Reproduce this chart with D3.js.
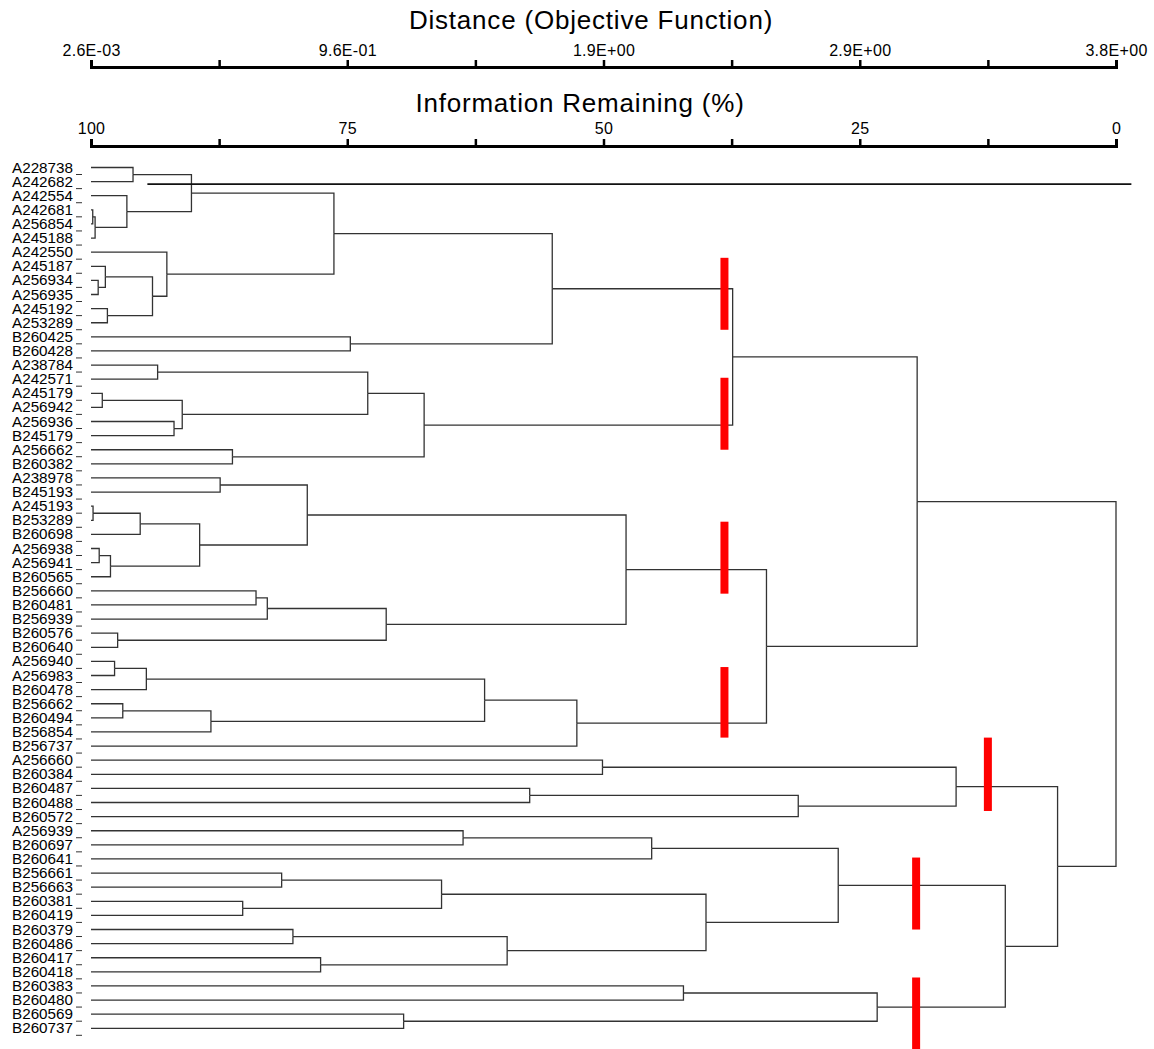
<!DOCTYPE html>
<html>
<head>
<meta charset="utf-8">
<title>Dendrogram</title>
<script src="https://d3js.org/d3.v7.min.js"></script>
<style>
  body { margin: 0; background: #fff; }
  svg { display: block; font-family: Arial, "Liberation Sans", sans-serif; }
</style>
</head>
<body>
<div id="chart"></div>
<script>
// leaf order, top to bottom
const leafNames = [
  "A228738", "A242682", "A242554", "A242681", "A256854", "A245188", "A242550", "A245187",
  "A256934", "A256935", "A245192", "A253289", "B260425", "B260428", "A238784", "A242571",
  "A245179", "A256942", "A256936", "B245179", "A256662", "B260382", "A238978", "B245193",
  "A245193", "B253289", "B260698", "A256938", "A256941", "B260565", "B256660", "B260481",
  "B256939", "B260576", "B260640", "A256940", "A256983", "B260478", "B256662", "B260494",
  "B256854", "B256737", "A256660", "B260384", "B260487", "B260488", "B260572", "A256939",
  "B260697", "B260641", "B256661", "B256663", "B260381", "B260419", "B260379", "B260486",
  "B260417", "B260418", "B260383", "B260480", "B260569", "B260737"
];

// [id, child A, child B, information remaining (%) at the fusion]
const merges = [
  ["m1", "A228738", "A242682", 95.9],
  ["m2", "A242681", "A256854", 99.83],
  ["m3", "m2", "A245188", 99.6],
  ["m4", "A242554", "m3", 96.5],
  ["m5", "m1", "m4", 90.2],
  ["m6", "A256934", "A256935", 99.3],
  ["m7", "A245187", "m6", 98.6],
  ["m8", "A245192", "A253289", 98.4],
  ["m9", "m7", "m8", 94.0],
  ["m10", "A242550", "m9", 92.6],
  ["m11", "m5", "m10", 76.3],
  ["m12", "B260425", "B260428", 74.7],
  ["m13", "m11", "m12", 55.0],
  ["m14", "A238784", "A242571", 93.5],
  ["m15", "A245179", "A256942", 98.9],
  ["m16", "A256936", "B245179", 91.9],
  ["m17", "m15", "m16", 91.1],
  ["m18", "m14", "m17", 73.0],
  ["m19", "A256662", "B260382", 86.2],
  ["m20", "m18", "m19", 67.5],
  ["m21", "m13", "m20", 37.4],
  ["m22", "A238978", "B245193", 87.4],
  ["m23", "A245193", "B253289", 99.8],
  ["m24", "m23", "B260698", 95.2],
  ["m25", "A256938", "A256941", 99.2],
  ["m26", "m25", "B260565", 98.1],
  ["m27", "m24", "m26", 89.4],
  ["m28", "m22", "m27", 78.9],
  ["m29", "B256660", "B260481", 83.9],
  ["m30", "m29", "B256939", 82.8],
  ["m31", "B260576", "B260640", 97.4],
  ["m32", "m30", "m31", 71.2],
  ["m33", "m28", "m32", 47.8],
  ["m34", "A256940", "A256983", 97.7],
  ["m35", "m34", "B260478", 94.6],
  ["m36", "B256662", "B260494", 96.9],
  ["m37", "m36", "B256854", 88.3],
  ["m38", "m35", "m37", 61.6],
  ["m39", "m38", "B256737", 52.6],
  ["m40", "m33", "m39", 34.1],
  ["m41", "m21", "m40", 19.4],
  ["m42", "A256660", "B260384", 50.1],
  ["m43", "B260487", "B260488", 57.2],
  ["m44", "m43", "B260572", 31.0],
  ["m45", "m42", "m44", 15.6],
  ["m46", "A256939", "B260697", 63.7],
  ["m47", "m46", "B260641", 45.3],
  ["m48", "B256661", "B256663", 81.4],
  ["m49", "B260381", "B260419", 85.2],
  ["m50", "m48", "m49", 65.8],
  ["m51", "B260379", "B260486", 80.3],
  ["m52", "B260417", "B260418", 77.6],
  ["m53", "m51", "m52", 59.4],
  ["m54", "m50", "m53", 40.0],
  ["m55", "m47", "m54", 27.1],
  ["m56", "B260383", "B260480", 42.2],
  ["m57", "B260569", "B260737", 69.5],
  ["m58", "m56", "m57", 23.3],
  ["m59", "m55", "m58", 10.8],
  ["m60", "m45", "m59", 5.7],
  ["m61", "m41", "m60", 0.0]
];

const infoTicks = [100, 87.5, 75, 62.5, 50, 37.5, 25, 12.5, 0];
const infoTickLabels = ["100", "", "75", "", "50", "", "25", "", "0"];
const distTickLabels = ["2.6E-03", "", "9.6E-01", "", "1.9E+00", "", "2.9E+00", "", "3.8E+00"];

// red cut markers: information remaining (%) and the leaf rows they span
const cutInfo = [38.2, 38.2, 38.2, 38.2, 12.5, 19.5, 19.5];
const cutFrom = [6.4, 14.9, 25.1, 35.4, 40.4, 48.9, 57.4];
const cutTo = [11.5, 20.0, 30.2, 40.4, 45.6, 54.0, 62.5];

// the long stray rule drawn across the top of the tree
const strayRow = 1.18;
const strayInfo = [94.5, -1.5];

const width = 1154, height = 1049;

const svg = d3.select("#chart").append("svg")
    .attr("width", width)
    .attr("height", height);

const x = d3.scaleLinear().domain([100, 0]).range([91, 1116]);
const y = d3.scaleLinear().domain([0, leafNames.length - 1]).range([167.5, 1028.3]);

// build the tree from the merge list
const nodes = {};
leafNames.forEach((n, i) => { nodes[n] = { name: n, info: 100, order: i }; });
merges.forEach(([id, a, b, info]) => {
    nodes[id] = { name: id, info: info, children: [nodes[a], nodes[b]] };
});
const root = d3.hierarchy(nodes[merges[merges.length - 1][0]]);
root.eachAfter(d => {
    d.yPos = d.children ? d3.mean(d.children, c => c.yPos) : y(d.data.order);
});

// axes
svg.append("g")
    .attr("class", "axis")
    .attr("transform", "translate(0,67)")
    .call(d3.axisTop(x)
        .tickValues(infoTicks)
        .tickSizeOuter(0)
        .tickSize(7)
        .tickPadding(4)
        .tickFormat((d, i) => distTickLabels[i]));

svg.append("g")
    .attr("class", "axis")
    .attr("transform", "translate(0,146)")
    .call(d3.axisTop(x)
        .tickValues(infoTicks)
        .tickSizeOuter(0)
        .tickSize(7)
        .tickPadding(5)
        .tickFormat((d, i) => infoTickLabels[i]));

svg.selectAll(".axis path.domain")
    .attr("stroke", "#000")
    .attr("stroke-width", 3);
svg.selectAll(".axis .tick line")
    .attr("stroke", "#000")
    .attr("stroke-width", 2.5);
svg.selectAll(".axis .tick text")
    .attr("fill", "#000")
    .style("font-size", "16px")
    .style("letter-spacing", "0.3px")
    .style("font-family", "Arial, 'Liberation Sans', sans-serif");

svg.append("text")
    .attr("x", 591)
    .attr("y", 29)
    .attr("text-anchor", "middle")
    .style("font-size", "26px")
    .style("letter-spacing", "0.8px")
    .text("Distance (Objective Function)");

svg.append("text")
    .attr("x", 580)
    .attr("y", 112)
    .attr("text-anchor", "middle")
    .style("font-size", "26px")
    .style("letter-spacing", "0.8px")
    .text("Information Remaining (%)");

// dendrogram links
svg.append("g")
    .selectAll("path")
    .data(root.descendants().filter(d => d.parent))
    .enter()
    .append("path")
    .attr("fill", "none")
    .attr("stroke", "#333")
    .attr("stroke-width", 1.3)
    .attr("d", d => `M${x(d.data.info)},${d.yPos}H${x(d.parent.data.info)}V${d.parent.yPos}`);

// stray rule
svg.append("line")
    .attr("x1", x(strayInfo[0]))
    .attr("x2", x(strayInfo[1]))
    .attr("y1", y(strayRow))
    .attr("y2", y(strayRow))
    .attr("stroke", "#111")
    .attr("stroke-width", 1.6);

// leaf labels and their little dashes
const leafG = svg.append("g");
leafG.selectAll("text")
    .data(root.leaves())
    .enter()
    .append("text")
    .attr("x", 12)
    .attr("y", d => d.yPos + 5)
    .attr("textLength", 61)
    .attr("lengthAdjust", "spacingAndGlyphs")
    .style("font-size", "14px")
    .text(d => d.data.name);

leafG.selectAll("line")
    .data(root.leaves())
    .enter()
    .append("line")
    .attr("x1", 76)
    .attr("x2", 82)
    .attr("y1", d => d.yPos + 7)
    .attr("y2", d => d.yPos + 7)
    .attr("stroke", "#333")
    .attr("stroke-width", 1);

// red cut markers
svg.append("g")
    .selectAll("rect")
    .data(cutInfo)
    .enter()
    .append("rect")
    .attr("x", d => x(d) - 4)
    .attr("width", 8)
    .attr("y", (d, i) => y(cutFrom[i]))
    .attr("height", (d, i) => y(cutTo[i]) - y(cutFrom[i]))
    .attr("fill", "#ff0000");
</script>
</body>
</html>
